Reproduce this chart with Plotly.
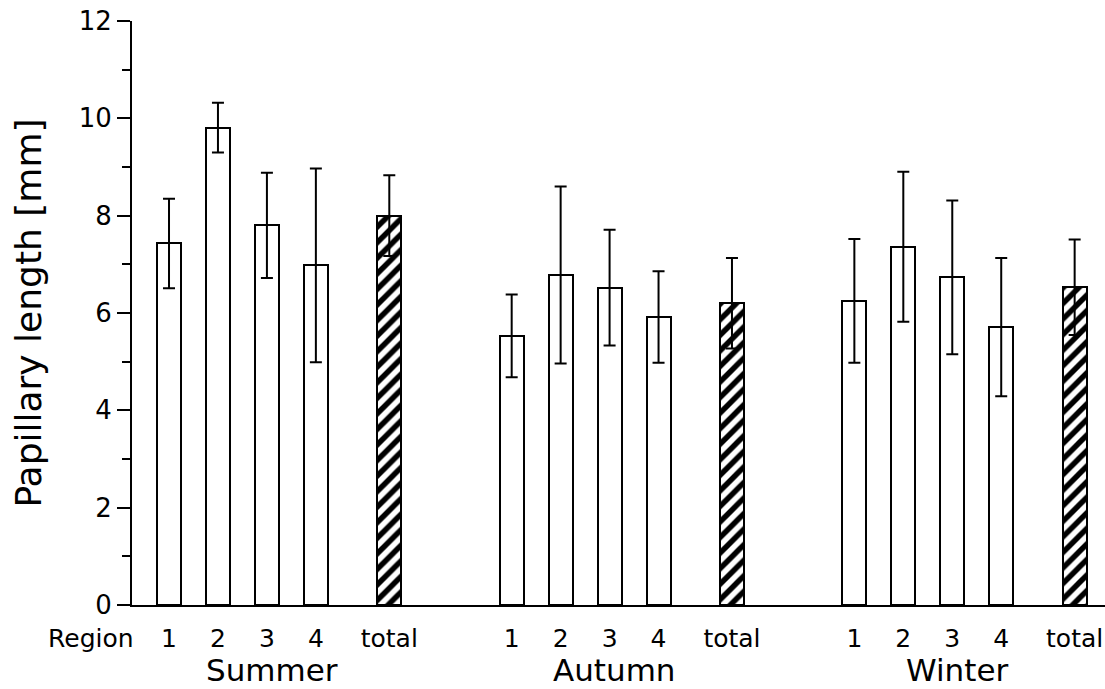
import plotly.graph_objects as go

# ---- data ----
seasons = ["Summer", "Autumn", "Winter"]
regions = ["1", "2", "3", "4", "total"]
summer_mean = [7.43, 9.81, 7.80, 6.98, 8.00]
summer_sd = [0.92, 0.51, 1.08, 1.99, 0.83]
autumn_mean = [5.53, 6.78, 6.52, 5.92, 6.20]
autumn_sd = [0.85, 1.82, 1.19, 0.94, 0.93]
winter_mean = [6.25, 7.36, 6.73, 5.71, 6.53]
winter_sd = [1.27, 1.54, 1.58, 1.42, 0.98]
y_ticks = [0, 2, 4, 6, 8, 10, 12]

means = [summer_mean, autumn_mean, winter_mean]
sds = [summer_sd, autumn_sd, winter_sd]

# ---- layout of categories on a numeric axis ----
region_offset = [0, 1, 2, 3, 4.5]
group_step = 7

FONT = "DejaVu Sans"
fig = go.Figure()
tickvals, ticktext = [], []
for gi, season in enumerate(seasons):
    xs = [gi * group_step + o for o in region_offset]
    tickvals += xs
    ticktext += regions
    fig.add_trace(go.Bar(
        x=xs, y=means[gi], width=0.49, name=season,
        marker=dict(
            color="white",
            line=dict(color="black", width=2),
            pattern=dict(shape=["", "", "", "", "/"], fgcolor="black",
                         fgopacity=1, bgcolor="white", size=11,
                         solidity=0.5),
        ),
        error_y=dict(type="data", array=sds[gi], symmetric=True,
                     color="black", thickness=2, width=6),
        showlegend=False,
    ))
    fig.add_annotation(
        x=sum(xs) / len(xs), xref="x", y=0, yref="paper",
        text=season, showarrow=False, yanchor="middle", yshift=-65,
        font=dict(family=FONT, size=31, color="black"))

fig.add_annotation(
    x=-0.042, xref="paper", y=0, yref="paper", text="Region",
    showarrow=False, yanchor="middle", xanchor="center", yshift=-33,
    font=dict(family=FONT, size=25, color="black"))

fig.update_layout(
    width=1105, height=689,
    margin=dict(l=132, r=0, t=21, b=84, autoexpand=False),
    paper_bgcolor="white", plot_bgcolor="white",
    bargap=0,
    xaxis=dict(
        range=[-0.756, 19.12], showgrid=False, zeroline=False,
        showline=True, linecolor="black", linewidth=2,
        tickvals=tickvals, ticktext=ticktext, ticks="",
        ticklabelstandoff=10, ticklabeloverflow="allow",
        tickfont=dict(family=FONT, size=25, color="black"),
    ),
    yaxis=dict(
        range=[0, 12], showgrid=False, zeroline=False,
        showline=True, linecolor="black", linewidth=2,
        tickvals=y_ticks, ticks="outside", ticklen=13, tickwidth=2,
        tickcolor="black", ticklabeloverflow="allow",
        minor=dict(dtick=1, ticks="outside", ticklen=8, tickwidth=2,
                   tickcolor="black", showgrid=False),
        tickfont=dict(family=FONT, size=26, color="black"),
        title=dict(text="Papillary length [mm]", standoff=26,
                   font=dict(family=FONT, size=36, color="black")),
    ),
)

# remove the browser's default body margin so the figure fills the window
fig.write_html(
    "out.html",
    config={"displayModeBar": False},
    post_script="document.body.style.margin='0';"
                "document.body.style.overflow='hidden';",
)
